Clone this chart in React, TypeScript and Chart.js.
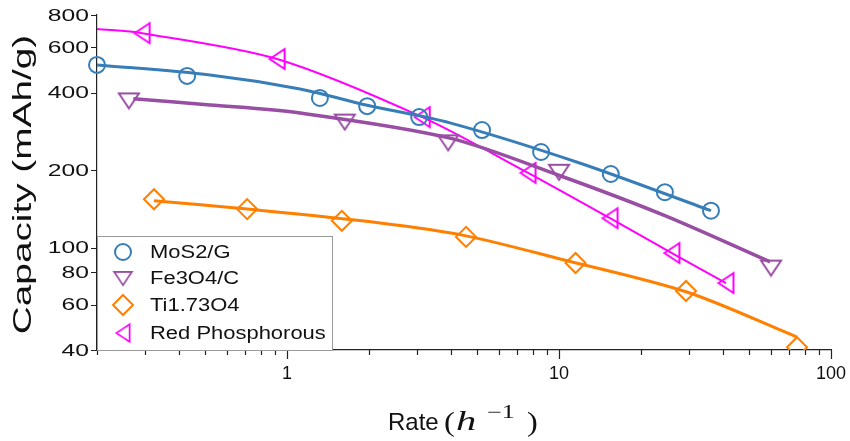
import React, { useEffect, useRef } from 'react';
import { Chart, registerables } from 'chart.js';

Chart.register(...registerables);

// ---- measured points: rate (h^-1) vs capacity (mAh/g) ----
const seriesNames = ['MoS2/G', 'Fe3O4/C', 'Ti1.73O4', 'Red Phosphorous'];
const seriesColors = ['#377eb8', '#984ea3', '#ff7f00', '#ff00ff'];

const mosRate = [0.2, 0.429, 1.32, 1.97, 3.06, 5.21, 8.59, 15.5, 24.5, 36.2];
const mosCap = [512, 464, 381, 354, 321, 286, 235, 193, 164, 139];

const feRate = [0.262, 1.63, 3.91, 10.0, 60.2];
const feCap = [371, 307, 255, 196, 83.2];

const tiRate = [0.324, 0.713, 1.59, 4.55, 11.5, 29.3, 75];
const tiCap = [154, 141, 127, 110, 87.1, 67.8, 41];

const rpRate = [0.293, 0.919, 3.14, 7.69, 15.4, 26.0, 41.1];
const rpCap = [680, 540, 321, 195, 130, 95.2, 72.8];

// ---- fitted trend curves ----
const mosFitRate = [0.2, 0.521, 1.116, 1.97, 3.97, 11.9, 36.2];
const mosFitCap = [512, 468, 413, 357, 305, 213, 139];

const feFitRate = [0.272, 0.521, 1.116, 3.97, 10.09, 24.5, 59.7];
const feFitCap = [378, 358, 333, 266, 190, 133, 88];

const tiFitRate = [0.324, 0.713, 2.2, 4.55, 10.09, 29.5, 75];
const tiFitCap = [152, 141, 124.5, 111, 90.3, 67.2, 44.9];

const rpFitRate = [0.2, 0.293, 0.919, 3.14, 7.69, 15.4, 26.0, 41.1];
const rpFitCap = [706, 680, 540, 321, 195, 130, 95.2, 72.8];

// ---- axis ticks ----
const xMajorTicks = [1, 10, 100];
const xMinorTicks = [0.2, 0.3, 0.4, 0.5, 0.6, 0.7, 0.8, 0.9, 2, 3, 4, 5, 6, 7, 8, 9, 20, 30, 40, 50, 60, 70, 80, 90];
const yTicks = [40, 60, 80, 100, 200, 400, 600, 800];

const xTitleText = 'Rate';
const yTitleText = 'Capacity (mAh/g)';

const toPoints = (xs: number[], ys: number[]) => xs.map((x, i) => ({ x, y: ys[i] }));

function triangleMarker(color: string, w: number, h: number, dir: 'down' | 'left') {
  const pad = 3;
  const c = document.createElement('canvas');
  c.width = w + pad * 2;
  c.height = h + pad * 2;
  const g = c.getContext('2d')!;
  g.strokeStyle = color;
  g.lineWidth = 2;
  g.lineJoin = 'miter';
  g.beginPath();
  if (dir === 'down') {
    g.moveTo(pad + 1, pad + 1);
    g.lineTo(pad + w - 1, pad + 1);
    g.lineTo(pad + w / 2, pad + h - 1);
  } else {
    g.moveTo(pad + 1, pad + h / 2);
    g.lineTo(pad + w - 1, pad + 1);
    g.lineTo(pad + w - 1, pad + h - 1);
  }
  g.closePath();
  g.stroke();
  return c;
}

function stretchedText(ctx: CanvasRenderingContext2D, text: string, x: number, y: number, sx: number) {
  ctx.save();
  ctx.translate(x, y);
  ctx.scale(sx, 1);
  ctx.fillText(text, 0, 0);
  ctx.restore();
}

export default function App() {
  const canvasRef = useRef<HTMLCanvasElement | null>(null);

  useEffect(() => {
    if (!canvasRef.current) return;

    const markers: any[] = [
      'circle',
      triangleMarker(seriesColors[1], 22, 17, 'down'),
      'rectRot',
      triangleMarker(seriesColors[3], 17, 22, 'left'),
    ];
    const markerRadius = [8, 10, 10, 10];

    const decor = {
      id: 'decor',
      afterDraw(chart: any) {
        const { ctx, chartArea, scales } = chart;
        const xs = scales.x;
        const ys = scales.y;
        ctx.save();

        // tick marks
        ctx.strokeStyle = '#222';
        ctx.lineWidth = 1.2;
        ctx.beginPath();
        xMajorTicks.forEach((v) => {
          const px = Math.round(xs.getPixelForValue(v)) + 0.5;
          ctx.moveTo(px, chartArea.bottom);
          ctx.lineTo(px, chartArea.bottom + 9);
        });
        xMinorTicks.forEach((v) => {
          const px = Math.round(xs.getPixelForValue(v)) + 0.5;
          ctx.moveTo(px, chartArea.bottom);
          ctx.lineTo(px, chartArea.bottom + 5);
        });
        yTicks.forEach((v) => {
          const py = Math.round(ys.getPixelForValue(v)) + 0.5;
          ctx.moveTo(chartArea.left - 6, py);
          ctx.lineTo(chartArea.left, py);
        });
        ctx.stroke();

        // y tick labels
        ctx.fillStyle = '#111';
        ctx.font = '17px "Liberation Sans", Arial, sans-serif';
        ctx.textAlign = 'right';
        ctx.textBaseline = 'middle';
        yTicks.forEach((v) => {
          const py = ys.getPixelForValue(v);
          stretchedText(ctx, String(v), chartArea.left - 8, py + 1, 1.45);
        });

        // y axis title
        ctx.save();
        ctx.translate(31, (chartArea.top + chartArea.bottom) / 2 + 2);
        ctx.rotate(-Math.PI / 2);
        ctx.scale(1.55, 1);
        ctx.font = '25px "Liberation Sans", Arial, sans-serif';
        ctx.textAlign = 'center';
        ctx.textBaseline = 'alphabetic';
        ctx.fillText(yTitleText, 0, 0);
        ctx.restore();

        // x axis title: Rate (h^-1)
        const base = 430;
        ctx.textAlign = 'left';
        ctx.textBaseline = 'alphabetic';
        ctx.font = '24px "Liberation Sans", Arial, sans-serif';
        ctx.fillText(xTitleText, 388, base);
        ctx.font = '27px "Liberation Serif", "DejaVu Serif", serif';
        stretchedText(ctx, '(', 444, base + 1, 1.2);
        ctx.font = 'italic 27px "Liberation Serif", "DejaVu Serif", serif';
        stretchedText(ctx, 'h', 456, base, 1.5);
        ctx.font = '18px "Liberation Serif", "DejaVu Serif", serif';
        stretchedText(ctx, '\u22121', 487, base - 12, 1.45);
        ctx.font = '27px "Liberation Serif", "DejaVu Serif", serif';
        stretchedText(ctx, ')', 527, base + 1, 1.2);

        // legend
        const lx = chartArea.left;
        const ly = 236;
        const lw = 235;
        const lh = chartArea.bottom - ly;
        ctx.fillStyle = '#fff';
        ctx.fillRect(lx, ly, lw, lh);
        ctx.strokeStyle = '#999';
        ctx.lineWidth = 1;
        ctx.strokeRect(lx + 0.5, ly + 0.5, lw, lh);
        const rows = [252, 278.5, 305, 333];
        seriesNames.forEach((name, i) => {
          const m = markers[i];
          ctx.save();
          if (typeof m === 'string') {
            ctx.strokeStyle = seriesColors[i];
            ctx.lineWidth = 2;
            ctx.beginPath();
            if (m === 'circle') {
              ctx.arc(123, rows[i], 8, 0, Math.PI * 2);
            } else {
              const r = 10;
              ctx.moveTo(123 - r, rows[i]);
              ctx.lineTo(123, rows[i] - r);
              ctx.lineTo(123 + r, rows[i]);
              ctx.lineTo(123, rows[i] + r);
              ctx.closePath();
            }
            ctx.stroke();
          } else {
            const s = 0.88;
            ctx.drawImage(m, 123 - (m.width * s) / 2, rows[i] - (m.height * s) / 2, m.width * s, m.height * s);
          }
          ctx.restore();
          ctx.fillStyle = '#111';
          ctx.font = '18px "Liberation Sans", Arial, sans-serif';
          ctx.textAlign = 'left';
          ctx.textBaseline = 'middle';
          stretchedText(ctx, name, 150, rows[i] + 1, 1.22);
        });

        ctx.restore();
      },
    };

    const fits = [
      toPoints(mosFitRate, mosFitCap),
      toPoints(feFitRate, feFitCap),
      toPoints(tiFitRate, tiFitCap),
      toPoints(rpFitRate, rpFitCap),
    ];
    const pts = [
      toPoints(mosRate, mosCap),
      toPoints(feRate, feCap),
      toPoints(tiRate, tiCap),
      toPoints(rpRate, rpCap),
    ];
    const lineWidths = [3, 3.5, 3, 2];
    const clip = { left: false, top: false, right: false, bottom: 0 } as any;

    const datasets: any[] = [];
    seriesNames.forEach((name, i) => {
      datasets.push({
        label: name,
        data: pts[i],
        showLine: false,
        pointStyle: markers[i],
        pointRadius: markerRadius[i],
        pointBorderWidth: 2,
        pointBorderColor: seriesColors[i],
        pointBackgroundColor: 'rgba(0,0,0,0)',
        borderColor: seriesColors[i],
        clip,
      });
      datasets.push({
        label: name + ' fit',
        data: fits[i],
        showLine: true,
        pointRadius: 0,
        borderColor: seriesColors[i],
        borderWidth: lineWidths[i],
        tension: 0.3,
        fill: false,
        clip,
      });
    });

    const chart = new Chart(canvasRef.current, {
      type: 'line',
      data: { datasets },
      options: {
        animation: false,
        responsive: true,
        maintainAspectRatio: false,
        layout: { padding: { top: 15, right: 19, left: 0, bottom: 0 } },
        plugins: { legend: { display: false }, tooltip: { enabled: false } },
        scales: {
          x: {
            type: 'logarithmic',
            min: 0.2,
            max: 100,
            afterBuildTicks: (scale: any) => {
              scale.ticks = [...xMinorTicks, ...xMajorTicks]
                .sort((a, b) => a - b)
                .map((v) => ({ value: v, major: xMajorTicks.includes(v) }));
            },
            afterFit: (scale: any) => {
              scale.height = 91;
              scale.paddingLeft = 0;
              scale.paddingRight = 0;
            },
            grid: { display: false, drawTicks: false },
            border: { display: true, color: '#222', width: 1.2 },
            ticks: {
              autoSkip: false,
              maxRotation: 0,
              padding: 13,
              color: '#111',
              font: { family: '"Liberation Sans", Arial, sans-serif', size: 18 },
              callback: (value: any) => (xMajorTicks.includes(Number(value)) ? String(value) : ''),
            },
          },
          y: {
            type: 'logarithmic',
            min: 40,
            max: 800,
            afterFit: (scale: any) => {
              scale.width = 97;
              scale.paddingTop = 0;
              scale.paddingBottom = 0;
            },
            grid: { display: false, drawTicks: false },
            border: { display: true, color: '#222', width: 1.2 },
            ticks: { display: false },
          },
        },
      },
      plugins: [decor],
    });

    return () => chart.destroy();
  }, []);

  return (
    <div style={{ position: 'fixed', left: 0, top: 0, width: 850, height: 441, background: '#fff' }}>
      <canvas ref={canvasRef} />
    </div>
  );
}
